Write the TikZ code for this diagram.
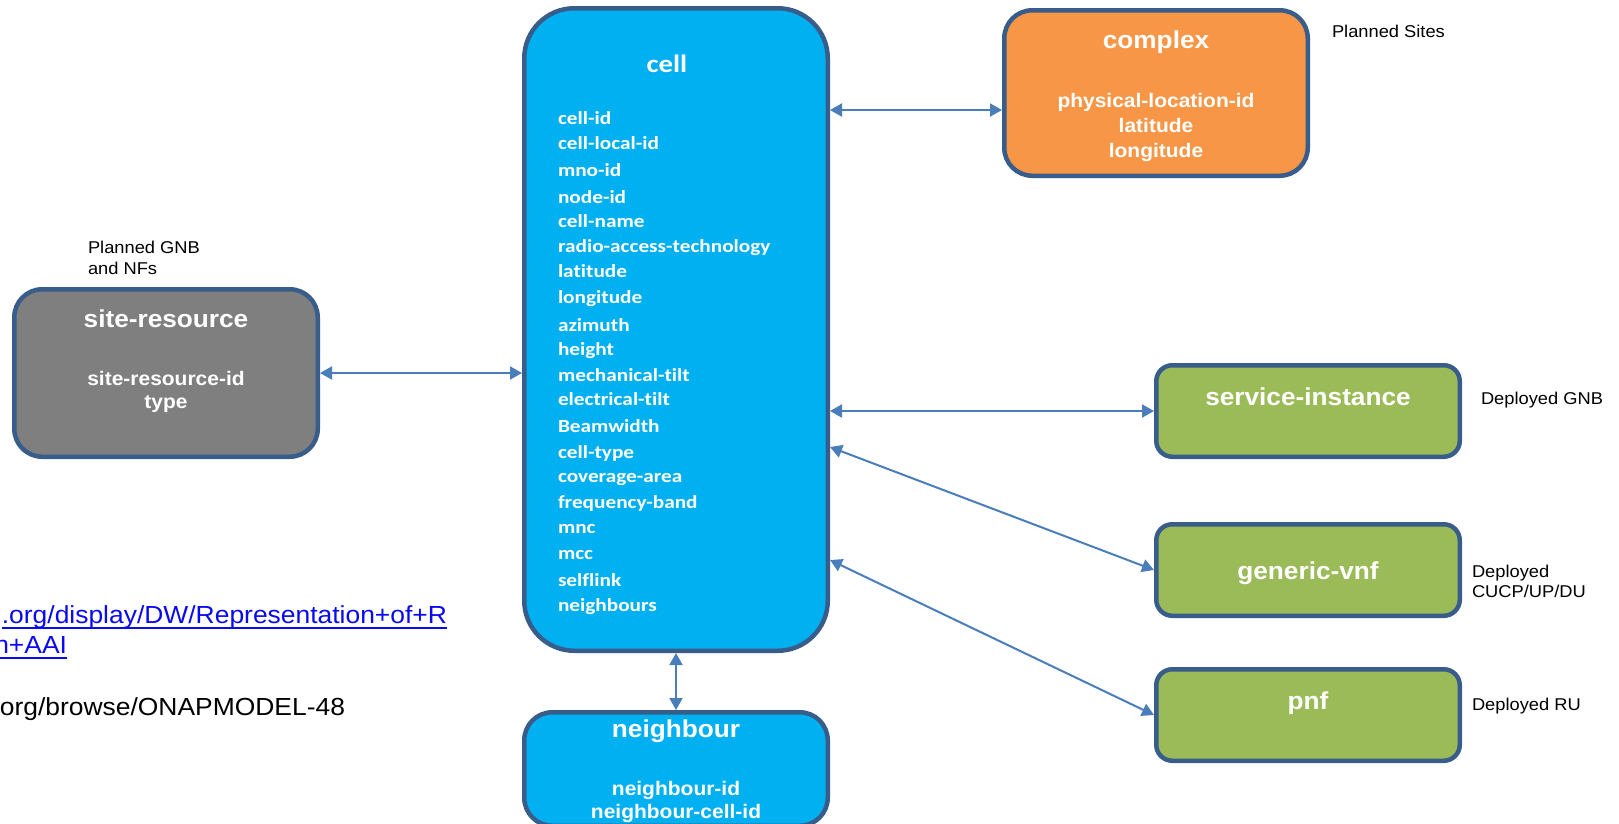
\documentclass[tikz,border=0pt]{standalone}
\usepackage{fontspec}
\setmainfont{Liberation Sans}
\newfontfamily\arialx[FakeStretch=1.07]{Liberation Sans}
\newfontfamily\calx[FakeStretch=1.15,Ligatures=CommonOff]{Carlito}
\usetikzlibrary{arrows.meta,calc}
\definecolor{bordc}{HTML}{385D8A}
\definecolor{arrowc}{HTML}{4A7EBB}
\definecolor{cyanf}{HTML}{00B0F0}
\definecolor{orangef}{HTML}{F79646}
\definecolor{greenf}{HTML}{9BBB59}
\definecolor{greyf}{HTML}{7F7F7F}
\definecolor{linkc}{RGB}{10,10,240}
\tikzset{
  box/.style={draw=bordc, line width=4.5pt, rectangle, inner sep=0pt, outer sep=2.25pt, minimum width=303.5pt},
  conn/.style={draw=arrowc, line width=2pt, arrows={Triangle[length=12pt,width=13pt]-Triangle[length=12pt,width=13pt]}},
  txt/.style={inner sep=0pt, outer sep=0pt},
  ttl/.style={txt, text=white, font=\arialx\bfseries\fontsize{24.5}{28}\selectfont},
  attr/.style={txt, text=white, font=\arialx\bfseries\fontsize{19.6}{23}\selectfont},
  citem/.style={txt, text=white, font=\calx\bfseries\fontsize{18.5}{22}\selectfont},
  ctitle/.style={txt, text=white, font=\calx\bfseries\fontsize{25}{30}\selectfont},
  note/.style={txt, text=black, font=\arialx\fontsize{17.1}{20}\selectfont},
  linktxt/.style={txt, font=\arialx\fontsize{24.7}{29}\selectfont},
}
\begin{document}
\begin{tikzpicture}[x=1pt,y=-1pt]
\useasboundingbox (0,0) rectangle (1619,823);
\clip (0,0) rectangle (1619,823);
% boxes
\node[box, fill=cyanf, rounded corners=50pt, minimum height=642.5pt] (cell) at (676,329.5) {};
\node[box, fill=greyf, rounded corners=28pt, minimum height=167.5pt] (site) at (166,373) {};
\node[box, fill=orangef, rounded corners=28pt, minimum height=165.5pt] (complex) at (1156,93) {};
\node[box, fill=greenf, rounded corners=16pt, minimum height=91.5pt] (service) at (1308,411) {};
\node[box, fill=greenf, rounded corners=16pt, minimum height=91.5pt] (generic) at (1308,570) {};
\node[box, fill=greenf, rounded corners=16pt, minimum height=91.5pt] (pnf) at (1308,715) {};
\node[box, fill=cyanf, rounded corners=28pt, minimum height=113.5pt] (neigh) at (676,769) {};
% cell text
\node[ctitle, anchor=base] (celltitle) at (667,72) {cell};
\foreach \t/\y [count=\i] in {cell-id/124, cell-local-id/149, mno-id/176, node-id/203, cell-name/227,
  radio-access-technology/252, latitude/277, longitude/303, azimuth/331, height/355,
  mechanical-tilt/381, electrical-tilt/405, Beamwidth/432, cell-type/458, coverage-area/482,
  frequency-band/508, mnc/533, mcc/559, selflink/586, neighbours/611}
  \node[citem, anchor=base west] (ci\i) at (558,\y) {\t};
% site-resource
\node[ttl, anchor=base] (sitetitle) at (166,327) {site-resource};
\node[attr, anchor=base] (sitea) at (166,385) {site-resource-id};
\node[attr, anchor=base] (siteb) at (166,408) {type};
\node[note, anchor=base west] (sitenote1) at (88,253) {Planned GNB};
\node[note, anchor=base west] (sitenote2) at (88,274) {and NFs};
% complex
\node[ttl, anchor=base] (cxtitle) at (1156,48) {complex};
\node[attr, anchor=base] (cxa) at (1156,107) {physical-location-id};
\node[attr, anchor=base] (cxb) at (1156,132) {latitude};
\node[attr, anchor=base] (cxc) at (1156,157) {longitude};
\node[note, anchor=base west] (cxnote) at (1332,37) {Planned Sites};
% right boxes
\node[ttl, anchor=base] (svtitle) at (1308,405) {service-instance};
\node[ttl, anchor=base] (gvtitle) at (1308,579) {generic-vnf};
\node[ttl, anchor=base] (pntitle) at (1308,709) {pnf};
\node[note, anchor=base west] (svnote) at (1481,404) {Deployed GNB};
\node[note, anchor=base west] (gvnote1) at (1472,577) {Deployed};
\node[note, anchor=base west] (gvnote2) at (1472,597) {CUCP/UP/DU};
\node[note, anchor=base west] (pnnote) at (1472,710) {Deployed RU};
% neighbour
\node[ttl, anchor=base] (nbtitle) at (676,737) {neighbour};
\node[attr, anchor=base] (nba) at (676,795) {neighbour-id};
\node[attr, anchor=base] (nbb) at (676,818) {neighbour-cell-id};
% links
\node[linktxt, text=linkc, anchor=base east] (link1) at (447,623) {.org/display/DW/Representation+of+R};
\node[linktxt, text=linkc, anchor=base east] (link2) at (67,653) {n+AAI};
\node[linktxt, text=black, anchor=base east] (link3) at (345,715) {org/browse/ONAPMODEL-48};
\draw[linkc, line width=1.8pt] ([yshift=-5pt]link1.base west) -- ([yshift=-5pt]link1.base east);
\draw[linkc, line width=1.8pt] ([yshift=-5pt]link2.base west) -- ([yshift=-5pt]link2.base east);
% connectors
\draw[conn] (site.east) -- (site.east -| cell.west);
\draw[conn] (cell.east |- 0,110) -- (complex.west |- 0,110);
\draw[conn] (service.west -| cell.east) -- (service.west);
\draw[conn] (cell.east |- 0,447) -- (generic.west);
\draw[conn] (cell.east |- 0,560) -- (pnf.west);
\draw[conn] (cell.south) -- (neigh.north);
\end{tikzpicture}
\end{document}
